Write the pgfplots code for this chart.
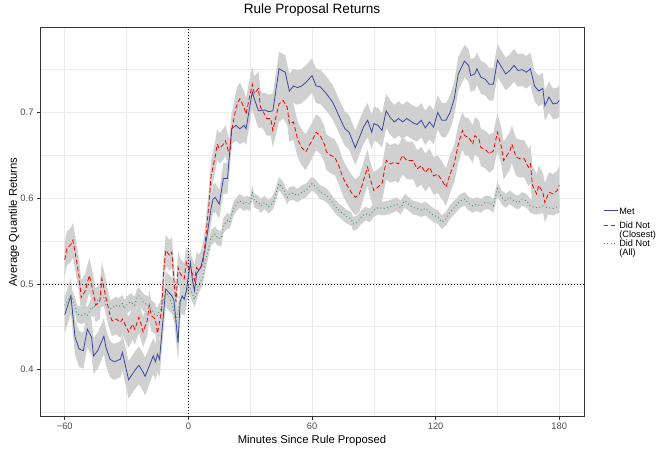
\documentclass[border=0pt]{standalone}
\usepackage{pgfplots}
\pgfplotsset{compat=1.18}
\usepgfplotslibrary{fillbetween}
\usepackage{pgfplotstable}
\usepackage{fontspec}
\setmainfont{Liberation Sans}
\definecolor{metblue}{RGB}{58,72,155}
\definecolor{clred}{RGB}{255,0,0}
\definecolor{allgreen}{RGB}{46,150,100}
\definecolor{ribbon}{RGB}{208,208,208}
\definecolor{gridc}{RGB}{235,235,235}
\definecolor{tickc}{RGB}{77,77,77}
\definecolor{framec}{RGB}{51,51,51}

\pgfplotstableread{
x y e
-60 0.464 0.021
-57 0.486 0.021
-55 0.438 0.021
-53 0.424 0.021
-51 0.422 0.021
-49 0.447 0.021
-47 0.438 0.021
-46 0.416 0.021
-44 0.422 0.021
-41 0.439 0.021
-40 0.426 0.021
-38 0.412 0.021
-36 0.409 0.021
-33 0.412 0.021
-32 0.420 0.021
-29 0.388 0.022
-26 0.399 0.022
-24 0.405 0.022
-22 0.397 0.022
-21 0.392 0.022
-18 0.410 0.021
-17 0.416 0.021
-16 0.409 0.021
-15 0.418 0.021
-14 0.412 0.021
-11 0.494 0.021
-8 0.486 0.021
-7 0.481 0.021
-5 0.431 0.021
-4 0.479 0.021
-3 0.486 0.020
-2 0.482 0.020
-1 0.492 0.020
1 0.525 0.018
2 0.504 0.018
3 0.492 0.018
4 0.512 0.018
6 0.519 0.018
8 0.539 0.018
11 0.588 0.017
12 0.599 0.017
13 0.601 0.017
15 0.593 0.017
17 0.623 0.018
19 0.623 0.018
21 0.681 0.018
23 0.685 0.018
25 0.681 0.018
27 0.685 0.019
28 0.681 0.019
31 0.724 0.020
32 0.716 0.020
34 0.702 0.020
37 0.703 0.020
39 0.701 0.020
41 0.702 0.020
42 0.718 0.020
44 0.751 0.020
47 0.747 0.020
49 0.725 0.020
51 0.731 0.020
53 0.729 0.020
55 0.731 0.020
57 0.735 0.020
60 0.743 0.020
62 0.731 0.020
64 0.730 0.020
67 0.722 0.020
70 0.712 0.020
72 0.702 0.020
74 0.691 0.020
76 0.681 0.020
78 0.677 0.020
81 0.659 0.020
83 0.671 0.020
85 0.683 0.020
87 0.691 0.020
89 0.677 0.020
90 0.687 0.020
92 0.685 0.020
94 0.679 0.020
96 0.702 0.020
98 0.694 0.020
100 0.689 0.020
102 0.693 0.020
104 0.689 0.020
106 0.693 0.020
109 0.688 0.020
111 0.686 0.020
113 0.691 0.020
115 0.682 0.020
117 0.689 0.020
119 0.683 0.020
121 0.700 0.020
123 0.691 0.020
125 0.691 0.020
127 0.700 0.020
129 0.716 0.020
131 0.745 0.020
134 0.760 0.019
136 0.755 0.019
137 0.743 0.019
139 0.745 0.019
140 0.751 0.019
142 0.741 0.019
144 0.739 0.019
146 0.733 0.019
148 0.733 0.019
150 0.761 0.019
152 0.753 0.019
154 0.745 0.019
156 0.749 0.019
158 0.755 0.019
160 0.749 0.019
162 0.750 0.019
164 0.747 0.019
166 0.751 0.019
168 0.731 0.018
170 0.725 0.018
172 0.728 0.018
173 0.708 0.018
175 0.718 0.018
177 0.710 0.018
179 0.711 0.018
180 0.714 0.018
}\met

\pgfplotstableread{
x y e
-60 0.528 0.020
-59 0.541 0.020
-57 0.546 0.020
-56 0.551 0.020
-55 0.537 0.020
-53 0.508 0.020
-52 0.484 0.020
-50 0.492 0.020
-49 0.502 0.020
-48 0.510 0.020
-46 0.488 0.020
-45 0.475 0.020
-43 0.479 0.020
-42 0.506 0.020
-40 0.484 0.020
-38 0.463 0.018
-37 0.457 0.018
-35 0.459 0.018
-33 0.455 0.018
-32 0.459 0.018
-30 0.449 0.018
-29 0.444 0.018
-27 0.453 0.018
-26 0.447 0.018
-24 0.461 0.018
-23 0.453 0.018
-22 0.444 0.018
-20 0.457 0.018
-19 0.475 0.018
-18 0.463 0.018
-16 0.459 0.018
-15 0.442 0.018
-13 0.469 0.018
-12 0.514 0.018
-11 0.539 0.018
-9 0.533 0.018
-8 0.537 0.018
-7 0.504 0.018
-6 0.479 0.018
-5 0.519 0.018
-4 0.512 0.018
-2 0.506 0.018
-1 0.525 0.018
0 0.519 0.018
2 0.512 0.018
3 0.504 0.018
4 0.519 0.018
5 0.516 0.018
7 0.523 0.018
8 0.545 0.018
10 0.593 0.018
11 0.626 0.018
13 0.648 0.018
14 0.663 0.018
15 0.658 0.018
17 0.663 0.018
18 0.667 0.018
20 0.650 0.018
21 0.679 0.019
23 0.704 0.019
24 0.712 0.019
25 0.716 0.019
27 0.706 0.019
28 0.698 0.019
30 0.722 0.020
31 0.733 0.020
32 0.722 0.020
34 0.728 0.020
35 0.706 0.020
37 0.698 0.020
38 0.693 0.020
40 0.693 0.020
41 0.679 0.020
43 0.700 0.021
44 0.710 0.021
46 0.714 0.021
48 0.706 0.021
49 0.687 0.021
51 0.689 0.021
53 0.669 0.021
55 0.659 0.021
57 0.654 0.021
59 0.663 0.021
60 0.667 0.021
62 0.677 0.021
64 0.673 0.021
66 0.663 0.021
67 0.654 0.021
69 0.650 0.021
71 0.648 0.021
73 0.638 0.021
75 0.624 0.021
77 0.615 0.021
79 0.607 0.021
81 0.601 0.021
83 0.605 0.021
85 0.621 0.021
87 0.636 0.021
88 0.624 0.021
90 0.609 0.021
92 0.613 0.021
94 0.617 0.021
96 0.644 0.022
98 0.640 0.022
100 0.642 0.022
102 0.640 0.022
104 0.650 0.022
106 0.644 0.022
109 0.644 0.022
111 0.634 0.022
113 0.638 0.022
115 0.630 0.022
117 0.636 0.022
119 0.626 0.022
121 0.628 0.022
123 0.621 0.022
125 0.613 0.022
127 0.628 0.022
129 0.640 0.022
131 0.663 0.022
133 0.679 0.022
134 0.673 0.022
136 0.671 0.022
138 0.663 0.022
139 0.673 0.022
141 0.669 0.022
142 0.659 0.022
144 0.657 0.022
146 0.652 0.022
148 0.655 0.022
150 0.677 0.022
152 0.659 0.022
153 0.644 0.022
156 0.655 0.022
157 0.663 0.022
159 0.648 0.022
161 0.646 0.022
163 0.646 0.022
165 0.636 0.022
166 0.640 0.022
167 0.615 0.023
169 0.605 0.023
170 0.615 0.023
172 0.607 0.023
173 0.595 0.023
175 0.607 0.023
177 0.605 0.023
179 0.609 0.023
180 0.615 0.023
}\closest

\pgfplotstableread{
x y e
-60 0.475 0.010
-59 0.479 0.010
-57 0.486 0.010
-55 0.475 0.010
-54 0.465 0.010
-52 0.463 0.010
-50 0.465 0.010
-49 0.463 0.010
-47 0.473 0.010
-46 0.471 0.010
-44 0.481 0.010
-43 0.482 0.010
-41 0.484 0.010
-40 0.475 0.010
-38 0.471 0.010
-37 0.472 0.010
-35 0.475 0.010
-34 0.473 0.010
-32 0.477 0.010
-31 0.471 0.010
-30 0.475 0.010
-28 0.479 0.010
-26 0.475 0.010
-25 0.484 0.010
-24 0.486 0.010
-22 0.479 0.010
-21 0.477 0.010
-19 0.475 0.010
-18 0.471 0.010
-16 0.463 0.010
-15 0.463 0.010
-13 0.473 0.010
-12 0.484 0.010
-10 0.488 0.010
-9 0.482 0.010
-8 0.477 0.010
-6 0.455 0.010
-5 0.469 0.010
-4 0.479 0.010
-3 0.484 0.010
-1 0.488 0.010
0 0.498 0.009
2 0.488 0.009
3 0.482 0.009
4 0.490 0.009
5 0.498 0.009
7 0.508 0.009
8 0.523 0.009
10 0.543 0.009
11 0.554 0.009
13 0.558 0.009
14 0.554 0.009
16 0.553 0.009
17 0.568 0.009
19 0.574 0.009
20 0.572 0.008
22 0.588 0.008
24 0.595 0.008
25 0.597 0.008
27 0.593 0.008
28 0.595 0.008
30 0.593 0.008
31 0.607 0.008
32 0.597 0.008
34 0.595 0.008
35 0.591 0.008
37 0.595 0.008
39 0.590 0.008
41 0.595 0.008
42 0.601 0.008
44 0.617 0.008
46 0.611 0.008
48 0.601 0.008
49 0.605 0.008
51 0.606 0.008
53 0.603 0.008
55 0.607 0.008
57 0.609 0.008
60 0.617 0.008
62 0.613 0.008
64 0.607 0.008
66 0.605 0.008
68 0.601 0.008
71 0.591 0.008
73 0.586 0.008
75 0.582 0.008
77 0.578 0.008
79 0.576 0.008
80 0.570 0.008
82 0.572 0.008
84 0.578 0.008
86 0.582 0.008
88 0.580 0.008
90 0.586 0.008
92 0.589 0.008
95 0.588 0.008
97 0.589 0.008
99 0.591 0.008
101 0.593 0.008
103 0.589 0.008
105 0.597 0.008
107 0.593 0.008
109 0.589 0.008
111 0.588 0.008
113 0.586 0.008
115 0.588 0.008
117 0.584 0.008
119 0.580 0.008
121 0.578 0.008
123 0.572 0.008
125 0.576 0.008
127 0.584 0.008
129 0.589 0.008
132 0.597 0.008
134 0.599 0.008
136 0.594 0.008
138 0.591 0.008
140 0.593 0.008
142 0.591 0.008
144 0.595 0.008
146 0.595 0.008
148 0.591 0.008
150 0.611 0.008
152 0.601 0.008
154 0.597 0.008
156 0.601 0.008
158 0.597 0.008
160 0.595 0.008
162 0.599 0.008
164 0.597 0.008
166 0.591 0.008
168 0.589 0.008
170 0.589 0.008
172 0.591 0.008
174 0.589 0.008
177 0.588 0.008
178 0.589 0.008
180 0.591 0.008
}\allnot

\begin{document}
\begin{tikzpicture}
\begin{axis}[
  scale only axis, width=544bp, height=389bp,
  at={(0,0)}, anchor=south west,
  xmin=-72, xmax=192, ymin=0.345, ymax=0.799,
  xtick={-60,0,60,120,180}, minor xtick={-30,30,90,150},
  xticklabels={−60,0,60,120,180},
  ytick={0.4,0.5,0.6,0.7}, minor ytick={0.35,0.45,0.55,0.65,0.75},
  grid=both,
  major grid style={draw=gridc, line width=0.9bp},
  minor grid style={draw=gridc, line width=0.45bp},
  axis line style={draw=framec, line width=0.8bp},
  tick align=outside, tick pos=left,
  major tick length=3bp, minor tick length=0pt,
  tick style={draw=framec, line width=0.6bp},
  /pgf/number format/assume math mode=true,
  yticklabel={\pgfmathprintnumber[fixed,fixed zerofill,precision=1]{\tick}},
  xticklabel style={font=\fontsize{9.4}{10}\selectfont, text=tickc},
  yticklabel style={font=\fontsize{9.4}{10}\selectfont, text=tickc},
  xlabel={Minutes Since Rule Proposed},
  ylabel={Average Quantile Returns},
  xlabel style={font=\fontsize{11.3}{13}\selectfont, at={(axis description cs:0.5,-0.0617)}, anchor=center},
  ylabel style={font=\fontsize{11.3}{13}\selectfont, at={(axis description cs:-0.048,0.5)}, anchor=center},
  title={Rule Proposal Returns},
  title style={font=\fontsize{13.6}{15}\selectfont, at={(axis description cs:0.5,1.031)}, anchor=center},
  legend style={at={(axis description cs:1.035,0.478)}, anchor=west, draw=none, fill=none,
    font=\fontsize{9.2}{9.6}\selectfont, inner sep=0pt, row sep=2.5bp,
    nodes={inner sep=1.2bp}},
  legend cell align=left,
  legend image code/.code={\draw[#1] (0bp,2.6bp) -- (14bp,2.6bp);},
]
% ribbons
\addplot[draw=none, forget plot, name path=mU] table[x=x, y expr=\thisrow{y}+\thisrow{e}] {\met};
\addplot[draw=none, forget plot, name path=mL] table[x=x, y expr=\thisrow{y}-\thisrow{e}] {\met};
\addplot[fill=ribbon, draw=none, forget plot] fill between[of=mU and mL];
\addplot[draw=none, forget plot, name path=cU] table[x=x, y expr=\thisrow{y}+\thisrow{e}] {\closest};
\addplot[draw=none, forget plot, name path=cL] table[x=x, y expr=\thisrow{y}-\thisrow{e}] {\closest};
\addplot[fill=ribbon, draw=none, forget plot] fill between[of=cU and cL];
\addplot[draw=none, forget plot, name path=aU] table[x=x, y expr=\thisrow{y}+\thisrow{e}] {\allnot};
\addplot[draw=none, forget plot, name path=aL] table[x=x, y expr=\thisrow{y}-\thisrow{e}] {\allnot};
\addplot[fill=ribbon, draw=none, forget plot] fill between[of=aU and aL];
% reference lines
\draw[black, line width=0.7bp, dash pattern=on 0.9bp off 2.1bp] (axis cs:-72,0.5) -- (axis cs:192,0.5);
\draw[black, line width=0.7bp, dash pattern=on 0.9bp off 2.1bp] (axis cs:0,0.345) -- (axis cs:0,0.799);
% lines
\addplot[metblue, line width=0.8bp] table[x=x, y=y] {\met};
\addlegendentry{Met}
\addplot[clred, line width=0.8bp, dash pattern=on 4.5bp off 2.5bp] table[x=x, y=y] {\closest};
\addlegendentry{\begin{tabular}{@{}l@{}}Did Not\\(Closest)\end{tabular}}
\addplot[allgreen, line width=0.9bp, dash pattern=on 0.9bp off 2.6bp] table[x=x, y=y] {\allnot};
\addlegendentry{\begin{tabular}{@{}l@{}}Did Not\\(All)\end{tabular}}
\end{axis}
\path (-40bp,-34bp) rectangle (623bp,413bp);
\end{tikzpicture}
\end{document}
